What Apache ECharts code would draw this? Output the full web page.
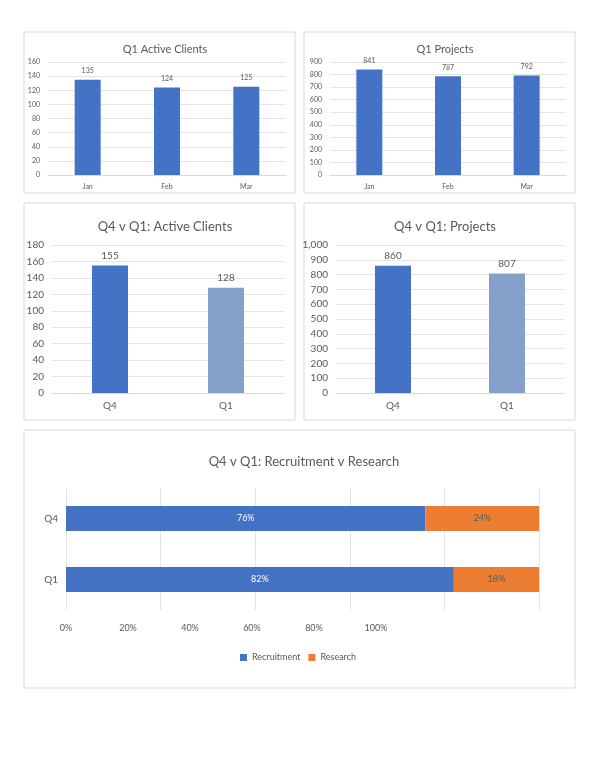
<!DOCTYPE html>
<html><head><meta charset="utf-8">
<script src="https://cdn.jsdelivr.net/npm/echarts@6/dist/echarts.min.js"></script>
<style>html,body{margin:0;background:#fff}#c{width:596px;height:759px}</style>
</head><body><div id="c"></div>
<script>
var months = ['Jan', 'Feb', 'Mar'];
var q1Clients = [135, 124, 125];
var q1Projects = [841, 787, 792];
var quarters = ['Q4', 'Q1'];
var qClients = [155, 128];
var qProjects = [860, 807];
var recruitment = [76, 82];
var research = [24, 18];

var blue = '#4472C4', light = '#86A0CC', orange = '#ED7D31', grey = '#595959';
var F = 'Lato, "Noto Sans", sans-serif';
var chart = echarts.init(document.getElementById('c'));

function box(x, y, w, h) {
  return {type: 'rect', shape: {x: x, y: y, width: w, height: h}, style: {fill: 'none', stroke: '#d9d9d9', lineWidth: 1}, z: -1};
}
function title(text, left, top, size) {
  return {text: text, left: left, top: top, textAlign: 'center', textStyle: {fontFamily: F, fontSize: size, fontWeight: 'normal', color: grey}};
}
function valAxis(g, max, interval, size) {
  return {type: 'value', gridIndex: g, min: 0, max: max, interval: interval,
    axisLabel: {fontFamily: F, fontSize: size, color: grey},
    splitLine: {lineStyle: {color: '#e4e4e4'}}, axisLine: {show: false}, axisTick: {show: false}};
}
function catAxis(g, data, size) {
  return {type: 'category', gridIndex: g, data: data,
    axisLabel: {fontFamily: F, fontSize: size, color: grey, margin: 8},
    axisLine: {lineStyle: {color: '#d9d9d9'}}, axisTick: {show: false}};
}
function colored(vals) {
  return vals.map(function (v, i) { return {value: v, itemStyle: {color: i === 0 ? blue : light}}; });
}

var option = {
  animation: false,
  graphic: [box(24, 32, 271, 161), box(304, 32, 271, 161), box(24, 203, 271, 217), box(304, 203, 271, 217), box(24, 430, 551, 258)],
  title: [
    title('Q1 Active Clients', 160, 39, 11),
    title('Q1 Projects', 440, 39, 11),
    title('Q4 v Q1: Active Clients', 160, 215, 13),
    title('Q4 v Q1: Projects', 440, 215, 13),
    title('Q4 v Q1: Recruitment v Research', 299, 450, 13)
  ],
  grid: [
    {left: 48, top: 62, width: 238, height: 113},
    {left: 330, top: 62, width: 236, height: 113},
    {left: 52, top: 245, width: 232, height: 148},
    {left: 336, top: 245, width: 228, height: 148},
    {left: 66, top: 488, width: 473, height: 122}
  ],
  xAxis: [
    catAxis(0, months, 7), catAxis(1, months, 7), catAxis(2, quarters, 10), catAxis(3, quarters, 10),
    {type: 'value', gridIndex: 4, min: 0, max: 100, interval: 20, axisLabel: {show: false},
      splitLine: {lineStyle: {color: '#e4e4e4'}}, axisLine: {show: false}, axisTick: {show: false}},
    {type: 'value', gridIndex: 4, position: 'bottom', min: 0, max: 152.6, interval: 20,
      axisLabel: {fontFamily: F, fontSize: 9, color: grey, margin: 14,
        formatter: function (v) { return v <= 100 ? v + '%' : ''; }},
      splitLine: {show: false}, axisLine: {show: false}, axisTick: {show: false}}
  ],
  yAxis: [
    valAxis(0, 160, 20, 7), valAxis(1, 900, 100, 7), valAxis(2, 180, 20, 10), valAxis(3, 1000, 100, 10),
    {type: 'category', gridIndex: 4, data: quarters, inverse: true,
      axisLabel: {fontFamily: F, fontSize: 10, color: grey}, axisLine: {show: false}, axisTick: {show: false}}
  ],
  legend: {bottom: 92, left: 'center', itemWidth: 7, itemHeight: 7, icon: 'rect',
    textStyle: {fontFamily: F, fontSize: 9, color: grey}, data: ['Recruitment', 'Research']},
  series: [
    {type: 'bar', xAxisIndex: 0, yAxisIndex: 0, data: q1Clients, barWidth: 26, itemStyle: {color: blue},
      label: {show: true, position: 'top', fontFamily: F, fontSize: 7, color: grey}},
    {type: 'bar', xAxisIndex: 1, yAxisIndex: 1, data: q1Projects, barWidth: 26, itemStyle: {color: blue},
      label: {show: true, position: 'top', fontFamily: F, fontSize: 7, color: grey}},
    {type: 'bar', xAxisIndex: 2, yAxisIndex: 2, data: colored(qClients), barWidth: 36,
      label: {show: true, position: 'top', fontFamily: F, fontSize: 10, color: grey}},
    {type: 'bar', xAxisIndex: 3, yAxisIndex: 3, data: colored(qProjects), barWidth: 36,
      label: {show: true, position: 'top', fontFamily: F, fontSize: 10, color: grey}},
    {name: 'Recruitment', type: 'bar', stack: 'r', xAxisIndex: 4, yAxisIndex: 4, data: recruitment, barWidth: 25,
      itemStyle: {color: blue}, label: {show: true, formatter: '{c}%', fontFamily: F, fontSize: 9, color: '#fff'}},
    {name: 'Research', type: 'bar', stack: 'r', xAxisIndex: 4, yAxisIndex: 4, data: research, barWidth: 25,
      itemStyle: {color: orange}, label: {show: true, formatter: '{c}%', fontFamily: F, fontSize: 9, color: grey}}
  ]
};
chart.setOption(option);
</script></body></html>
